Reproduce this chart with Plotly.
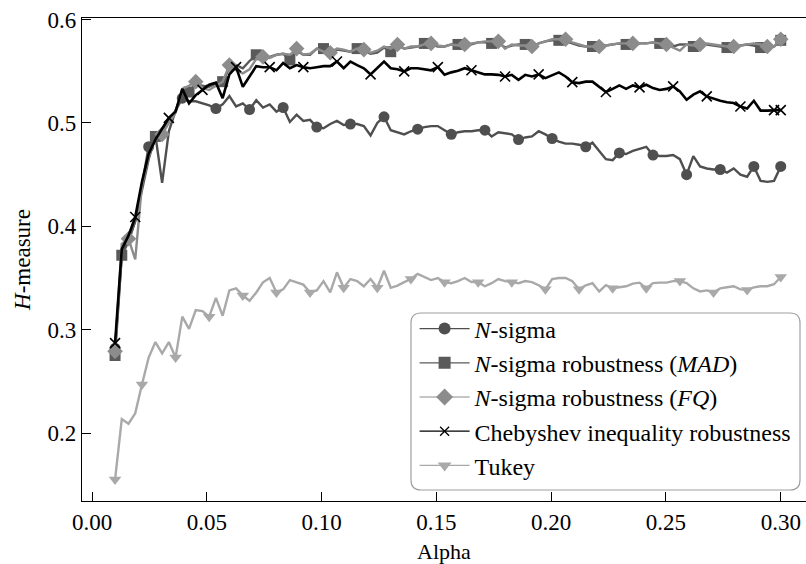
import numpy as np
import plotly.graph_objects as go

# alpha grid (100 evenly spaced alpha values)
alpha = np.round(np.linspace(0.01, 0.30, 100), 6)

n_sigma = [
    0.282, 0.372, 0.388, 0.405, 0.440, 0.477, 0.488, 0.442, 0.492, 0.512,
    0.524, 0.521, 0.521, 0.519, 0.517, 0.514, 0.518, 0.526, 0.516, 0.519,
    0.513, 0.522, 0.515, 0.518, 0.511, 0.515, 0.501, 0.508, 0.502, 0.503,
    0.496, 0.495, 0.499, 0.502, 0.498, 0.499, 0.499, 0.497, 0.488, 0.500,
    0.506, 0.493, 0.491, 0.489, 0.492, 0.494, 0.496, 0.497, 0.497, 0.493,
    0.489, 0.491, 0.492, 0.492, 0.493, 0.493, 0.487, 0.491, 0.490, 0.489,
    0.484, 0.486, 0.487, 0.492, 0.489, 0.485, 0.482, 0.480, 0.480, 0.479,
    0.477, 0.481, 0.473, 0.465, 0.464, 0.471, 0.470, 0.473, 0.475, 0.477,
    0.469, 0.468, 0.468, 0.469, 0.465, 0.450, 0.468, 0.458, 0.456, 0.455,
    0.455, 0.452, 0.456, 0.450, 0.448, 0.458, 0.444, 0.443, 0.444, 0.458,
]

n_sigma_mad = [
    0.275, 0.372, 0.385, 0.405, 0.435, 0.465, 0.487, 0.492, 0.503, 0.512,
    0.530, 0.530, 0.538, 0.536, 0.535, 0.538, 0.540, 0.553, 0.556, 0.553,
    0.560, 0.566, 0.563, 0.564, 0.566, 0.567, 0.561, 0.570, 0.566, 0.566,
    0.572, 0.572, 0.567, 0.571, 0.570, 0.569, 0.572, 0.570, 0.567, 0.568,
    0.573, 0.569, 0.575, 0.572, 0.573, 0.574, 0.577, 0.576, 0.574, 0.574,
    0.576, 0.576, 0.575, 0.576, 0.578, 0.578, 0.577, 0.578, 0.573, 0.575,
    0.576, 0.576, 0.574, 0.577, 0.579, 0.580, 0.580, 0.579, 0.577, 0.575,
    0.574, 0.574, 0.574, 0.575, 0.576, 0.577, 0.576, 0.577, 0.577, 0.577,
    0.578, 0.577, 0.576, 0.574, 0.576, 0.576, 0.574, 0.576, 0.576, 0.575,
    0.574, 0.573, 0.574, 0.575, 0.576, 0.575, 0.573, 0.574, 0.574, 0.580,
]

n_sigma_fq = [
    0.279, 0.383, 0.388, 0.368, 0.440, 0.468, 0.484, 0.489, 0.500, 0.510,
    0.533, 0.536, 0.540, 0.534, 0.532, 0.536, 0.540, 0.556, 0.551, 0.548,
    0.552, 0.562, 0.564, 0.563, 0.566, 0.567, 0.566, 0.572, 0.566, 0.567,
    0.572, 0.569, 0.568, 0.572, 0.571, 0.569, 0.572, 0.571, 0.568, 0.570,
    0.574, 0.572, 0.576, 0.572, 0.574, 0.574, 0.576, 0.577, 0.575, 0.574,
    0.576, 0.575, 0.576, 0.577, 0.578, 0.579, 0.579, 0.579, 0.572, 0.576,
    0.575, 0.575, 0.574, 0.577, 0.579, 0.581, 0.581, 0.581, 0.578, 0.576,
    0.574, 0.574, 0.574, 0.575, 0.576, 0.577, 0.577, 0.577, 0.577, 0.577,
    0.578, 0.577, 0.576, 0.573, 0.570, 0.576, 0.575, 0.576, 0.577, 0.576,
    0.575, 0.574, 0.574, 0.575, 0.576, 0.577, 0.576, 0.574, 0.574, 0.581,
]

chebyshev = [
    0.287, 0.378, 0.391, 0.409, 0.443, 0.470, 0.484, 0.494, 0.505, 0.511,
    0.533, 0.519, 0.527, 0.532, 0.537, 0.539, 0.524, 0.547, 0.554, 0.535,
    0.545, 0.555, 0.554, 0.554, 0.551, 0.558, 0.553, 0.556, 0.554, 0.553,
    0.554, 0.555, 0.555, 0.5595, 0.553, 0.5595, 0.556, 0.553, 0.547, 0.553,
    0.5595, 0.553, 0.552, 0.550, 0.553, 0.553, 0.552, 0.551, 0.554, 0.5466,
    0.549, 0.5505, 0.553, 0.551, 0.549, 0.547, 0.547, 0.5466, 0.545, 0.5466,
    0.5418, 0.5466, 0.545, 0.547, 0.5434, 0.546, 0.549, 0.545, 0.5395, 0.5386,
    0.540, 0.540, 0.5354, 0.530, 0.533, 0.5364, 0.533, 0.5364, 0.5345, 0.537,
    0.5338, 0.532, 0.533, 0.5354, 0.5306, 0.5225, 0.5274, 0.5306, 0.5257, 0.5235,
    0.5215, 0.520, 0.5193, 0.516, 0.514, 0.5215, 0.512, 0.512, 0.5125, 0.5125,
]

tukey = [
    0.155, 0.2135, 0.209, 0.219, 0.247, 0.273, 0.288, 0.277, 0.288, 0.273,
    0.3126, 0.3007, 0.319, 0.318, 0.3126, 0.3307, 0.3135, 0.338, 0.340, 0.333,
    0.328, 0.336, 0.3458, 0.350, 0.336, 0.339, 0.348, 0.3458, 0.3436, 0.336,
    0.338, 0.347, 0.336, 0.3555, 0.3405, 0.349, 0.347, 0.342, 0.349, 0.3405,
    0.357, 0.3405, 0.3426, 0.346, 0.349, 0.354, 0.351, 0.348, 0.350, 0.346,
    0.345, 0.347, 0.350, 0.346, 0.346, 0.342, 0.345, 0.349, 0.347, 0.346,
    0.345, 0.347, 0.346, 0.343, 0.339, 0.349, 0.350, 0.350, 0.347, 0.339,
    0.343, 0.345, 0.337, 0.343, 0.340, 0.341, 0.342, 0.3445, 0.3455, 0.340,
    0.345, 0.3455, 0.3455, 0.347, 0.347, 0.345, 0.340, 0.337, 0.338, 0.336,
    0.340, 0.341, 0.342, 0.339, 0.3385, 0.341, 0.342, 0.342, 0.344, 0.351,
]

series_names = [
    "<i>N</i>-sigma",
    "<i>N</i>-sigma robustness (<i>MAD</i>)",
    "<i>N</i>-sigma robustness (<i>FQ</i>)",
    "Chebyshev inequality robustness",
    "Tukey",
]
series_values = [n_sigma, n_sigma_mad, n_sigma_fq, chebyshev, tukey]

FONT = "Liberation Serif, Times New Roman, serif"

styles = [
    dict(color="#4f4f4f", symbol="circle", size=11, mark_offset=0, lw=2.4, mline=0),
    dict(color="#5a5a5a", symbol="square", size=11, mark_offset=1, lw=2.4, mline=0),
    dict(color="#8c8c8c", symbol="diamond", size=12, mark_offset=2, lw=2.4, mline=0),
    dict(color="#000000", symbol="x-thin", size=10, mark_offset=3, lw=2.6, mline=1.6),
    dict(color="#a9a9a9", symbol="triangle-down", size=11, mark_offset=4, lw=2.4, mline=0),
]

n = len(alpha)
fig = go.Figure()

# draw order: Tukey first (bottom), then N-sigma, MAD, FQ, Chebyshev on top
draw_order = [4, 0, 1, 2, 3]
for k in draw_order:
    name, vals, st = series_names[k], series_values[k], styles[k]
    idx = sorted(set([0, n - 1] + list(range(st["mark_offset"], n, 5))))
    fig.add_trace(go.Scatter(
        x=alpha, y=vals, mode="lines", showlegend=False,
        line=dict(color=st["color"], width=st["lw"]), hoverinfo="skip"))
    fig.add_trace(go.Scatter(
        x=[alpha[i] for i in idx], y=[vals[i] for i in idx], mode="markers",
        showlegend=False,
        marker=dict(color=st["color"], symbol=st["symbol"], size=st["size"],
                    line=dict(color=st["color"], width=st["mline"]))))

# legend entries in original order
for k in range(5):
    st = styles[k]
    fig.add_trace(go.Scatter(
        x=[None], y=[None], mode="lines+markers", name=series_names[k],
        legendgroup=f"g{k}",
        line=dict(color=st["color"], width=1.2),
        marker=dict(color=st["color"], symbol=st["symbol"],
                    size=st["size"] + 1 if k != 3 else 9,
                    line=dict(color=st["color"], width=st["mline"] * 0.8))))

# rounded legend box
x0, x1, y0, y1 = 0.4544, 0.9917, 0.0228, 0.3892
rx, ry = 0.0138, 0.0207
path = (f"M{x0+rx},{y0} L{x1-rx},{y0} Q{x1},{y0} {x1},{y0+ry} "
        f"L{x1},{y1-ry} Q{x1},{y1} {x1-rx},{y1} L{x0+rx},{y1} "
        f"Q{x0},{y1} {x0},{y1-ry} L{x0},{y0+ry} Q{x0},{y0} {x0+rx},{y0} Z")
fig.add_shape(type="path", path=path, xref="paper", yref="paper",
              line=dict(color="#a0a0a0", width=1.2), fillcolor="white", layer="above")

fig.update_layout(
    width=806, height=564,
    margin=dict(l=82, r=0, t=18, b=63),
    paper_bgcolor="white", plot_bgcolor="white",
    font=dict(family=FONT, size=23, color="black"),
    showlegend=True,
    legend=dict(x=0.4594, y=0.4027, xanchor="left", yanchor="top",
                bgcolor="rgba(0,0,0,0)", borderwidth=0,
                font=dict(family=FONT, size=24, color="black"),
                traceorder="grouped", tracegroupgap=0,
                itemsizing="trace", itemwidth=50),
    xaxis=dict(range=[-0.0044, 0.311], tickvals=[0, 0.05, 0.10, 0.15, 0.20, 0.25, 0.30],
               tickformat=".2f", ticks="inside", ticklen=9, tickwidth=1.2,
               tickcolor="black", showline=True, linecolor="black", linewidth=1.3,
               mirror=True, showgrid=False, zeroline=False,
               tickfont=dict(family=FONT, size=23),
               title=dict(text="Alpha", standoff=10, font=dict(family=FONT, size=22))),
    yaxis=dict(range=[0.1342, 0.6016], tickvals=[0.2, 0.3, 0.4, 0.5, 0.6],
               tickformat=".1f", ticks="inside", ticklen=9, tickwidth=1.2,
               tickcolor="black", showline=True, linecolor="black", linewidth=1.3,
               mirror=False, showgrid=False, zeroline=False,
               tickfont=dict(family=FONT, size=23),
               title=dict(text="<i>H</i>-measure", standoff=10, font=dict(family=FONT, size=23))),
)

# remove the browser's default page margin so the 806x564 figure fills the window
fig.write_html("out.html", config={"displayModeBar": False},
               post_script="document.body.style.margin='0';document.body.style.overflow='hidden';")
